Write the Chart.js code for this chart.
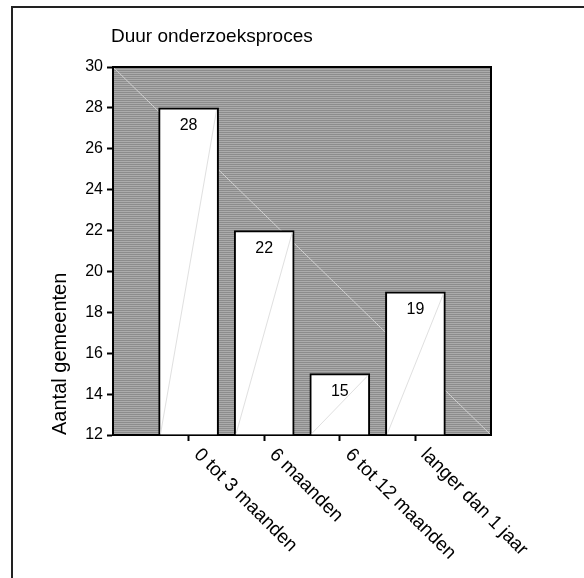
<!DOCTYPE html>
<html>
<head>
<meta charset="utf-8">
<title>Duur onderzoeksproces</title>
<script src="https://cdn.jsdelivr.net/npm/chart.js@4.4.1/dist/chart.umd.min.js"></script>
<style>
  body { margin: 0; background: #fff; }
  canvas { display: block; }
</style>
</head>
<body>
<canvas id="chart" width="584" height="578"></canvas>
<script>
// values
const categories = ["0 tot 3 maanden", "6 maanden", "6 tot 12 maanden", "langer dan 1 jaar"];
const counts = [28, 22, 15, 19];
const yTicks = [12, 14, 16, 18, 20, 22, 24, 26, 28, 30];
const chartTitle = "Duur onderzoeksproces";
const yTitle = "Aantal gemeenten";

const FONT = "'Liberation Sans', Arial, sans-serif";

// horizontal grey stripes like the old Excel fill
function stripePattern(ctx) {
    const c = document.createElement("canvas");
    c.width = 4;
    c.height = 2;
    const p = c.getContext("2d");
    p.fillStyle = "#8c8c8c";
    p.fillRect(0, 0, 4, 1);
    p.fillStyle = "#ababab";
    p.fillRect(0, 1, 4, 1);
    return ctx.createPattern(c, "repeat");
}

const plotBackground = {
    id: "plotBackground",
    beforeDraw(chart) {
        const { ctx, chartArea: a } = chart;
        ctx.save();
        ctx.fillStyle = stripePattern(ctx);
        ctx.fillRect(a.left, a.top, a.right - a.left, a.bottom - a.top);
        // faint diagonal across the plot
        ctx.strokeStyle = "#cfcfcf";
        ctx.lineWidth = 1;
        ctx.beginPath();
        ctx.moveTo(a.left, a.top);
        ctx.lineTo(a.right, a.bottom);
        ctx.stroke();
        ctx.restore();
    }
};

// faint diagonal inside each bar + value label
const barDetails = {
    id: "barDetails",
    afterDatasetsDraw(chart) {
        const { ctx } = chart;
        const meta = chart.getDatasetMeta(0);
        ctx.save();
        meta.data.forEach((bar, i) => {
            const { x, y, base, width } = bar.getProps(["x", "y", "base", "width"], true);
            const left = x - width / 2;
            const right = x + width / 2;
            ctx.strokeStyle = "#e0e0e0";
            ctx.lineWidth = 1;
            ctx.beginPath();
            ctx.moveTo(left + 2, base - 1);
            ctx.lineTo(right - 2, y + 2);
            ctx.stroke();

            ctx.fillStyle = "#000";
            ctx.font = "16px " + FONT;
            ctx.textAlign = "center";
            ctx.textBaseline = "middle";
            ctx.fillText(String(counts[i]), x, y + 18);
        });
        ctx.restore();
    }
};

// title, slanted category labels, plot border, outer frame
const decorations = {
    id: "decorations",
    afterDraw(chart) {
        const { ctx, chartArea: a } = chart;
        const xs = chart.scales.x;
        ctx.save();

        ctx.strokeStyle = "#000";
        ctx.lineWidth = 2;
        ctx.beginPath();
        ctx.moveTo(a.left, a.top);
        ctx.lineTo(a.right, a.top);
        ctx.lineTo(a.right, a.bottom);
        ctx.stroke();

        ctx.strokeStyle = "#222";
        ctx.lineWidth = 2;
        ctx.beginPath();
        ctx.moveTo(584, 7);
        ctx.lineTo(12, 7);
        ctx.lineTo(12, 578);
        ctx.stroke();

        ctx.fillStyle = "#000";
        ctx.font = "19px " + FONT;
        ctx.textAlign = "left";
        ctx.textBaseline = "alphabetic";
        ctx.fillText(chartTitle, 111, 42);

        ctx.textBaseline = "top";
        categories.forEach((label, i) => {
            const px = xs.getPixelForValue(i + 1);
            ctx.save();
            ctx.translate(px + 15, xs.top + 10);
            ctx.rotate(Math.PI / 4);
            ctx.fillText(label, 0, 0);
            ctx.restore();
        });
        ctx.restore();
    }
};

new Chart(document.getElementById("chart").getContext("2d"), {
    type: "bar",
    data: {
        datasets: [{
            data: counts.map((v, i) => ({ x: i + 1, y: v })),
            base: yTicks[0],
            backgroundColor: "#ffffff",
            borderColor: "#000000",
            borderWidth: 2,
            barThickness: 60
        }]
    },
    options: {
        responsive: false,
        animation: false,
        layout: { padding: { top: 67, right: 93, left: 0, bottom: 0 } },
        plugins: {
            legend: { display: false },
            tooltip: { enabled: false }
        },
        scales: {
            x: {
                type: "linear",
                offset: false,
                min: 0,
                max: categories.length + 1,
                afterBuildTicks(scale) { scale.ticks = categories.map((c, i) => ({ value: i + 1 })); },
                afterFit(scale) { scale.height = 143; },
                grid: { offset: false, drawOnChartArea: false, tickLength: 6, color: "#000", tickWidth: 2 },
                border: { color: "#000", width: 2 },
                ticks: { display: false }
            },
            y: {
                min: yTicks[0],
                max: yTicks[yTicks.length - 1],
                afterBuildTicks(scale) { scale.ticks = yTicks.map(v => ({ value: v })); },
                afterFit(scale) { scale.width = 113; },
                grid: { drawOnChartArea: false, tickLength: 6, color: "#000", tickWidth: 2 },
                border: { color: "#000", width: 2 },
                ticks: { color: "#000", font: { size: 16, family: FONT }, padding: 4 },
                title: {
                    display: true,
                    text: yTitle,
                    align: "start",
                    color: "#000",
                    font: { size: 20, family: FONT },
                    padding: { top: 48 }
                }
            }
        }
    },
    plugins: [plotBackground, barDetails, decorations]
});
</script>
</body>
</html>
